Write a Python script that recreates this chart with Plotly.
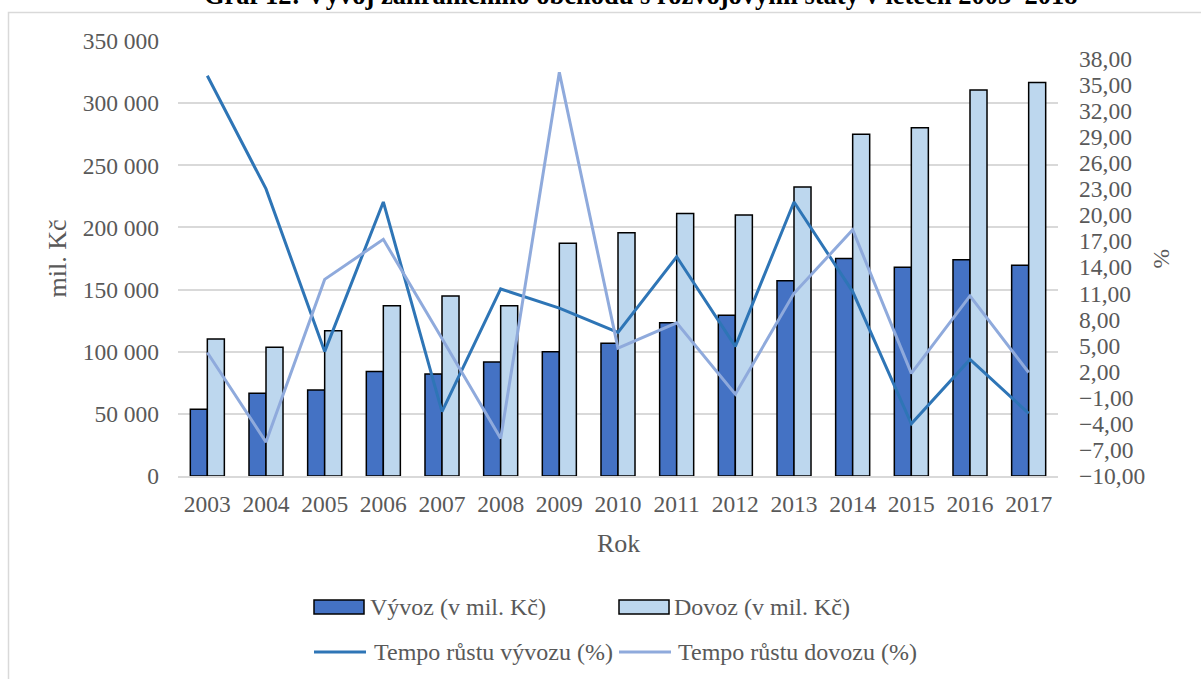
import plotly.graph_objects as go

# ---- data ----
roky = ["2003", "2004", "2005", "2006", "2007", "2008", "2009", "2010",
        "2011", "2012", "2013", "2014", "2015", "2016", "2017"]
vyvoz = [53700, 66500, 69200, 84000, 82100, 91700, 100000, 106800,
         123400, 129300, 157100, 175100, 167900, 174000, 169500]
dovoz = [110300, 103500, 116900, 137000, 144800, 137000, 187200, 195800,
         211300, 210000, 232500, 274900, 280300, 310600, 316700]
tempo_vyvozu = [36.0, 23.0, 4.3, 21.5, -2.6, 11.5, 9.3, 6.5,
                15.2, 4.9, 21.5, 11.2, -4.0, 3.4, -2.8]
tempo_dovozu = [4.2, -6.1, 12.6, 17.2, 5.8, -5.7, 36.4, 4.7,
                7.6, -0.6, 11.0, 18.3, 1.8, 10.7, 1.9]

nazvy = ["Vývoz (v mil. Kč)", "Dovoz (v mil. Kč)",
         "Tempo růstu vývozu (%)", "Tempo růstu dovozu (%)"]
titulek = "Graf 12: Vývoj zahraničního obchodu s rozvojovými státy v letech 2003–2018"

# ---- style ----
FONT = "Liberation Serif, Times New Roman, serif"
TXT = "#595959"
C_VYV = "#4472C4"
C_DOV = "#BDD7EE"
C_TV = "#2E75B6"
C_TD = "#8FAADC"
GRID = "#d9d9d9"

W, H = 1201, 679
L, R, T, B = 178, 1058, 41, 476   # plot area in pixels


def px(x):
    return (x - L) / (R - L)


def py(y):
    return (B - y) / (B - T)


fig = go.Figure()
fig.add_trace(go.Bar(x=roky, y=vyvoz, name=nazvy[0], marker_color=C_VYV,
                     marker_line=dict(color="black", width=1.5)))
fig.add_trace(go.Bar(x=roky, y=dovoz, name=nazvy[1], marker_color=C_DOV,
                     marker_line=dict(color="black", width=1.5)))
fig.add_trace(go.Scatter(x=roky, y=tempo_vyvozu, name=nazvy[2], yaxis="y2",
                         mode="lines", line=dict(color=C_TV, width=3)))
fig.add_trace(go.Scatter(x=roky, y=tempo_dovozu, name=nazvy[3], yaxis="y2",
                         mode="lines", line=dict(color=C_TD, width=3)))

fs = 23.5
fig.update_layout(
    width=W, height=H,
    margin=dict(l=L, r=W - R, t=T, b=H - B, pad=0),
    paper_bgcolor="white", plot_bgcolor="white",
    separators=", ",
    showlegend=False,
    barmode="group", bargap=0.42, bargroupgap=0,
    font=dict(family=FONT, size=fs, color=TXT),
    xaxis=dict(type="category", showgrid=False, showline=True,
               linecolor=GRID, linewidth=1.5, ticks="",
               tickfont=dict(family=FONT, size=fs, color=TXT),
               ticklabelstandoff=6),
    yaxis=dict(range=[0, 350000], dtick=50000, tick0=0, tickformat=",d",
               showgrid=True, gridcolor=GRID, gridwidth=1.5,
               zeroline=False, showline=False, ticks="",
               tickfont=dict(family=FONT, size=fs, color=TXT),
               ticklabelstandoff=18),
    yaxis2=dict(range=[-10, 40], dtick=3, tick0=-10, tickformat=".2f",
                overlaying="y", side="right", showgrid=False,
                zeroline=False, showline=False, ticks="",
                tickfont=dict(family=FONT, size=fs, color=TXT),
                ticklabelstandoff=20),
)

ann = []
# title (partly cut off at the top, as in the reference)
ann.append(dict(text="<b>" + titulek + "</b>", xref="paper", yref="paper",
                x=px(640), y=py(-5), xanchor="center", yanchor="middle",
                showarrow=False, font=dict(family=FONT, size=26.5, color="black")))
# axis titles
ann.append(dict(text="mil. Kč", xref="paper", yref="paper", x=px(57), y=0.5,
                textangle=-90, xanchor="center", yanchor="middle",
                showarrow=False, font=dict(family=FONT, size=26, color=TXT)))
ann.append(dict(text="Rok", xref="paper", yref="paper", x=0.5, y=py(543),
                xanchor="center", yanchor="middle",
                showarrow=False, font=dict(family=FONT, size=26, color=TXT)))
ann.append(dict(text="%", xref="paper", yref="paper", x=px(1160), y=0.5,
                textangle=-90, xanchor="center", yanchor="middle",
                showarrow=False, font=dict(family=FONT, size=fs, color=TXT)))

shapes = []
# chart-area border
shapes.append(dict(type="rect", xref="paper", yref="paper",
                   x0=px(8.5), x1=px(1260), y0=py(720), y1=py(12.5),
                   line=dict(color=GRID, width=1.5), fillcolor="rgba(0,0,0,0)",
                   layer="below"))

# custom legend (2 x 2)
leg = [
    (nazvy[0], "box", C_VYV, 314, 364, 607, 368),
    (nazvy[1], "box", C_DOV, 619, 669, 607, 672),
    (nazvy[2], "line", C_TV, 314, 366, 652, 372),
    (nazvy[3], "line", C_TD, 619, 671, 652, 676),
]
for name, kind, col, x0, x1, yc, xt in leg:
    if kind == "box":
        shapes.append(dict(type="rect", xref="paper", yref="paper",
                           x0=px(x0), x1=px(x1), y0=py(yc + 7), y1=py(yc - 7),
                           fillcolor=col, line=dict(color="black", width=1.5)))
    else:
        shapes.append(dict(type="line", xref="paper", yref="paper",
                           x0=px(x0), x1=px(x1), y0=py(yc), y1=py(yc),
                           line=dict(color=col, width=3)))
    ann.append(dict(text=name, xref="paper", yref="paper", x=px(xt), y=py(yc),
                    xanchor="left", yanchor="middle", showarrow=False,
                    font=dict(family=FONT, size=24, color=TXT)))

fig.update_layout(annotations=ann, shapes=shapes)
fig.write_html(
    "out.html",
    config={"displayModeBar": False},
    post_script="document.body.style.margin='0';document.body.style.overflow='hidden';",
)
